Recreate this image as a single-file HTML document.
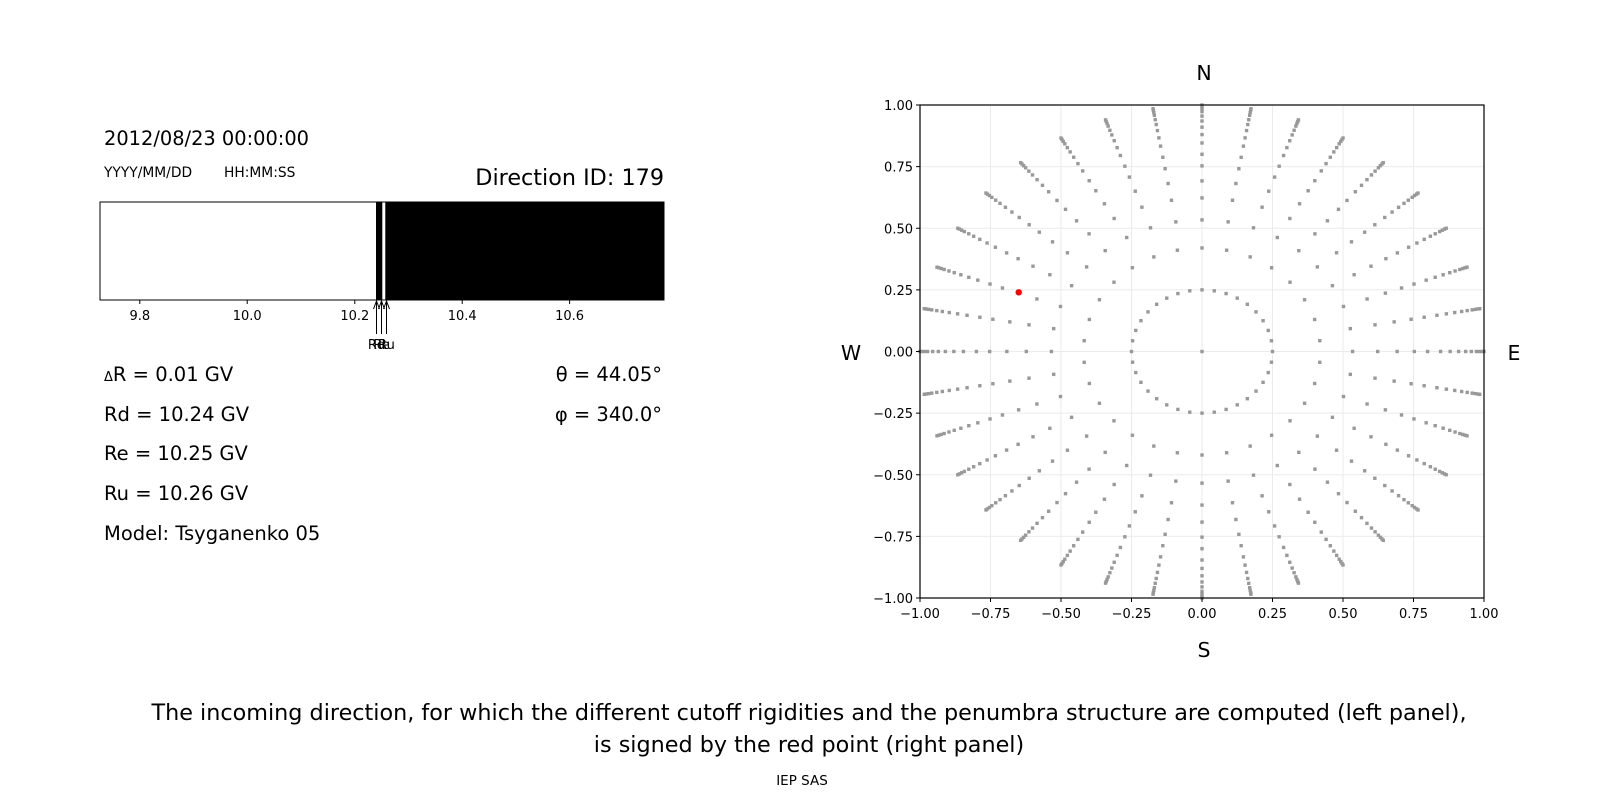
<!DOCTYPE html>
<html><head><meta charset="utf-8"><style>
body{margin:0;background:#fff;}
svg text{font-family:"DejaVu Sans","Liberation Sans",sans-serif;fill:#000;}
</style></head><body>
<svg id="s" width="1600" height="800" xmlns="http://www.w3.org/2000/svg">
<rect width="1600" height="800" fill="#fff"/>
<!-- left text -->
<text x="104" y="145" font-size="19.4">2012/08/23 00:00:00</text>
<text x="104" y="177" font-size="13.8">YYYY/MM/DD</text>
<text x="224" y="177" font-size="13.8">HH:MM:SS</text>
<text x="664" y="185" font-size="22.3" text-anchor="end">Direction ID: 179</text>
<!-- bar -->
<rect x="100" y="202" width="564" height="98" fill="#fff" stroke="#000" stroke-width="1"/>
<rect x="376" y="202" width="6.3" height="98" fill="#000"/>
<rect x="385.3" y="202" width="278.7" height="98" fill="#000"/>
<g stroke="#000" stroke-width="1">
<line x1="139.8" y1="300" x2="139.8" y2="304"/>
<line x1="247.2" y1="300" x2="247.2" y2="304"/>
<line x1="354.8" y1="300" x2="354.8" y2="304"/>
<line x1="462.2" y1="300" x2="462.2" y2="304"/>
<line x1="569.6" y1="300" x2="569.6" y2="304"/>
<line x1="376.5" y1="301" x2="376.5" y2="334"/>
<line x1="381.5" y1="301" x2="381.5" y2="334"/>
<line x1="386.5" y1="301" x2="386.5" y2="334"/>
<polyline fill="none" points="373.5,309 376.5,301 379.5,309"/>
<polyline fill="none" points="378.5,309 381.5,301 384.5,309"/>
<polyline fill="none" points="383.5,309 386.5,301 389.5,309"/>
</g>
<g font-size="13" text-anchor="middle">
<text x="139.8" y="320">9.8</text>
<text x="247.2" y="320">10.0</text>
<text x="354.8" y="320">10.2</text>
<text x="462.2" y="320">10.4</text>
<text x="569.6" y="320">10.6</text>
<text x="376.5" y="349">Rd</text>
<text x="381.5" y="349">Re</text>
<text x="386.5" y="349">Ru</text>
</g>
<g font-size="19.5">
<text x="104" y="381"><tspan font-size="13">Δ</tspan>R = 0.01 GV</text>
<text x="104" y="421">Rd = 10.24 GV</text>
<text x="104" y="460">Re = 10.25 GV</text>
<text x="104" y="500">Ru = 10.26 GV</text>
<text x="104" y="540">Model: Tsyganenko 05</text>
<text x="662" y="381" text-anchor="end">θ = 44.05°</text>
<text x="662" y="421" text-anchor="end">φ = 340.0°</text>
</g>
<!-- right panel -->
<g id="grid" stroke="#ebebeb" stroke-width="1"></g>
<g id="dots" fill="#999"></g>
<circle cx="1018.7" cy="292.3" r="3.2" fill="#ff0000"/>
<rect x="920" y="105" width="564" height="493" fill="none" stroke="#000" stroke-width="1.2"/>
<g id="ticks" stroke="#000" stroke-width="1"></g>
<g id="tl" font-size="13"></g>
<g font-size="20.5" text-anchor="middle">
<text x="1204" y="80">N</text>
<text x="1204" y="657">S</text>
<text x="851" y="360">W</text>
<text x="1514" y="360">E</text>
</g>
<!-- caption -->
<g text-anchor="middle">
<text x="809" y="720" font-size="22.3">The incoming direction, for which the different cutoff rigidities and the penumbra structure are computed (left panel),</text>
<text x="809" y="752" font-size="22.3">is signed by the red point (right panel)</text>
<text x="802" y="785" font-size="13.5">IEP SAS</text>
</g>
</svg>
<script>
var NS="http://www.w3.org/2000/svg";
function el(p,t,a){var e=document.createElementNS(NS,t);for(var k in a)e.setAttribute(k,a[k]);document.getElementById(p).appendChild(e);return e;}
var X0=920,X1=1484,Y0=105,Y1=598;
function px(v){return X0+(v+1)/2*(X1-X0);}
function py(v){return Y1-(v+1)/2*(Y1-Y0);}
for(var i=0;i<=8;i++){var v=-1+i*0.25;
 el("grid","line",{x1:px(v),y1:Y0,x2:px(v),y2:Y1});
 el("grid","line",{x1:X0,y1:py(v),x2:X1,y2:py(v)});
 el("ticks","line",{x1:px(v),y1:Y1,x2:px(v),y2:Y1+4});
 el("ticks","line",{x1:X0-4,y1:py(v),x2:X0,y2:py(v)});
 var s=(v<0?"\u2212":"")+Math.abs(v).toFixed(2);
 var t=el("tl","text",{x:px(v),y:Y1+20,"text-anchor":"middle"});t.textContent=s;
 var t2=el("tl","text",{x:X0-7,y:py(v)+5,"text-anchor":"end"});t2.textContent=s;
}
function dot(x,y){el("dots","rect",{x:px(x)-1.7,y:py(y)-1.7,width:3.4,height:3.4});}
dot(0,0);
for(var a=0;a<36;a++){var t=a*10*Math.PI/180;dot(0.25*Math.cos(t),0.25*Math.sin(t));}
for(var a=0;a<30;a++){var t=(90+a*12)*Math.PI/180;dot(0.42*Math.cos(t),0.42*Math.sin(t));}
var R=[0.534,0.623,0.692,0.753,0.80,0.846,0.88,0.91,0.935,0.955,0.973,0.984,0.993,1.0];
for(var a=0;a<36;a++){var t=a*10*Math.PI/180;
 for(var j=0;j<R.length;j++)dot(R[j]*Math.cos(t),R[j]*Math.sin(t));}
</script>
</body></html>
